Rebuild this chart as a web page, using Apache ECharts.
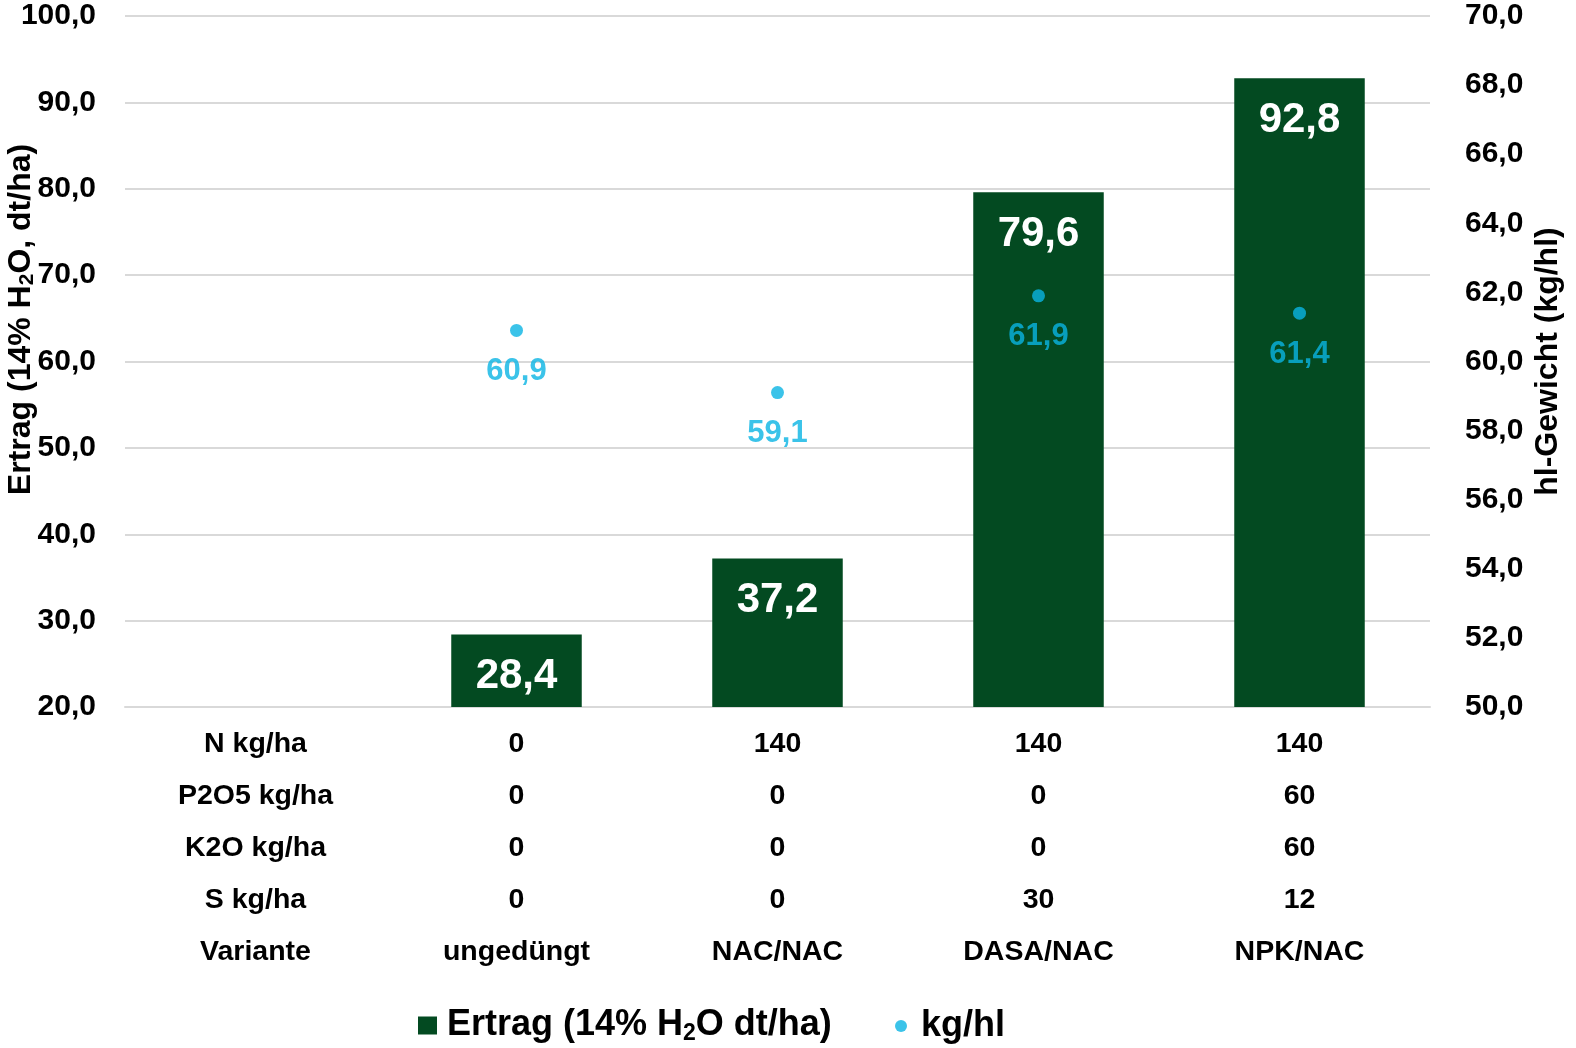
<!DOCTYPE html>
<html>
<head>
<meta charset="utf-8">
<title>Ertrag und hl-Gewicht</title>
<script src="https://cdn.jsdelivr.net/npm/echarts@6/dist/echarts.min.js"></script>
<style>
  html, body { margin: 0; padding: 0; background: #ffffff; }
  #chart { width: 1576px; height: 1048px; }
</style>
</head>
<body>
<div id="chart"></div>
<script>
// Treatment variants (first column holds the row headers of the table under the axis)
const variants = ['ungedüngt', 'NAC/NAC', 'DASA/NAC', 'NPK/NAC'];
const rowHeaders = ['N kg/ha', 'P2O5 kg/ha', 'K2O kg/ha', 'S kg/ha', 'Variante'];
const nRates = [0, 140, 140, 140];
const p2o5Rates = [0, 0, 0, 60];
const k2oRates = [0, 0, 0, 60];
const sRates = [0, 0, 30, 12];

// Yield (dt/ha, 14% moisture) and test weight (kg/hl)
const ertrag = [28.4, 37.2, 79.6, 92.8];
const hlGewicht = [60.9, 59.1, 61.9, 61.4];

// Axis ranges
const leftAxis = { min: 20, max: 100, interval: 10 };
const rightAxis = { min: 50, max: 70, interval: 2 };

const FONT = "'Liberation Sans', Arial, Helvetica, sans-serif";
const GREEN = '#034A21';
const CYAN = '#0AB4E4';
const GRID = '#D9D9D9';

const fmt = v => v.toFixed(1).replace('.', ',');

// category 0 = header column, categories 1..4 = variants
const categories = ['header'].concat(variants);
const tableRows = [nRates, p2o5Rates, k2oRates, sRates, variants];

function categoryLabel(value, idx) {
  if (idx === 0) return rowHeaders.join('\n');
  return tableRows.map(r => String(r[idx - 1])).join('\n');
}

const chart = echarts.init(document.getElementById('chart'), null, { renderer: 'canvas' });

chart.setOption({
  animation: false,
  backgroundColor: '#ffffff',
  textStyle: { fontFamily: FONT, fontWeight: 'bold', color: '#000' },
  grid: { left: 125, right: 146, top: 16, bottom: 341, containLabel: false, outerBoundsMode: 'none' },
  legend: [
    {
      data: [{ name: 'Ertrag', icon: 'rect' }],
      left: 413, top: 1001,
      itemWidth: 19, itemHeight: 18,
      formatter: () => '{n|Ertrag (14% H}{s|2}{n|O dt/ha)}',
      textStyle: {
        fontFamily: FONT, fontWeight: 'bold', color: '#000', padding: [0, 0, 0, 5],
        rich: {
          n: { fontSize: 36, fontWeight: 'bold', fontFamily: FONT, color: '#000', lineHeight: 44 },
          s: { fontSize: 23, fontWeight: 'bold', fontFamily: FONT, color: '#000', lineHeight: 44, padding: [16, 0, 0, 0] }
        }
      }
    },
    {
      data: [{ name: 'kg/hl', icon: 'circle' }],
      left: 890, top: 999,
      itemWidth: 12, itemHeight: 12,
      textStyle: {
        fontFamily: FONT, fontWeight: 'bold', color: '#000', fontSize: 36, lineHeight: 44,
        padding: [0, 0, 0, 9]
      }
    }
  ],
  xAxis: {
    type: 'category',
    data: categories,
    axisLine: { show: true, lineStyle: { color: GRID, width: 2 } },
    axisTick: { show: false },
    axisLabel: {
      interval: 0,
      margin: 11,
      fontSize: 28.5,
      lineHeight: 52,
      fontWeight: 'bold',
      fontFamily: FONT,
      color: '#000',
      formatter: categoryLabel
    }
  },
  yAxis: [
    {
      type: 'value',
      min: leftAxis.min, max: leftAxis.max, interval: leftAxis.interval,
      position: 'left',
      name: '{n|Ertrag (14% H}{s|2}{n|O, dt/ha)}',
      nameLocation: 'middle',
      nameRotate: 90,
      nameGap: 86,
      nameMoveOverlap: false,
      nameTextStyle: {
        padding: [0, 0, 0, 84],
        rich: {
          n: { fontSize: 32, fontWeight: 'bold', fontFamily: FONT, color: '#000', lineHeight: 36 },
          s: { fontSize: 21, fontWeight: 'bold', fontFamily: FONT, color: '#000', lineHeight: 36, padding: [12, 0, 0, 0] }
        }
      },
      axisLine: { show: false },
      axisTick: { show: false },
      splitLine: { show: true, lineStyle: { color: GRID, width: 2 } },
      axisLabel: {
        margin: 29, fontSize: 30, fontWeight: 'bold', fontFamily: FONT, color: '#000',
        formatter: fmt
      }
    },
    {
      type: 'value',
      min: rightAxis.min, max: rightAxis.max, interval: rightAxis.interval,
      position: 'right',
      name: 'hl-Gewicht (kg/hl)',
      nameLocation: 'middle',
      nameRotate: 90,
      nameGap: 102,
      nameMoveOverlap: false,
      nameTextStyle: { fontSize: 32, fontWeight: 'bold', fontFamily: FONT, color: '#000' },
      axisLine: { show: false },
      axisTick: { show: false },
      splitLine: { show: false },
      axisLabel: {
        margin: 35, fontSize: 30, fontWeight: 'bold', fontFamily: FONT, color: '#000',
        formatter: fmt
      }
    }
  ],
  series: [
    {
      name: 'Ertrag',
      type: 'bar',
      yAxisIndex: 0,
      barWidth: '50%',
      data: ['-'].concat(ertrag),
      itemStyle: { color: GREEN },
      label: {
        show: true,
        position: 'insideTop',
        distance: 21,
        fontSize: 42,
        fontWeight: 'bold',
        fontFamily: FONT,
        color: '#ffffff',
        formatter: p => fmt(p.value)
      },
      z: 2
    },
    {
      name: 'kg/hl',
      type: 'scatter',
      yAxisIndex: 1,
      symbol: 'circle',
      symbolSize: 13,
      data: ['-'].concat(hlGewicht),
      itemStyle: { color: CYAN },
      label: {
        show: true,
        position: 'bottom',
        distance: 19,
        fontSize: 31,
        fontWeight: 'bold',
        fontFamily: FONT,
        color: CYAN,
        textBorderWidth: 0,
        formatter: p => fmt(p.value)
      },
      z: 3
    }
  ]
});
</script>
</body>
</html>
